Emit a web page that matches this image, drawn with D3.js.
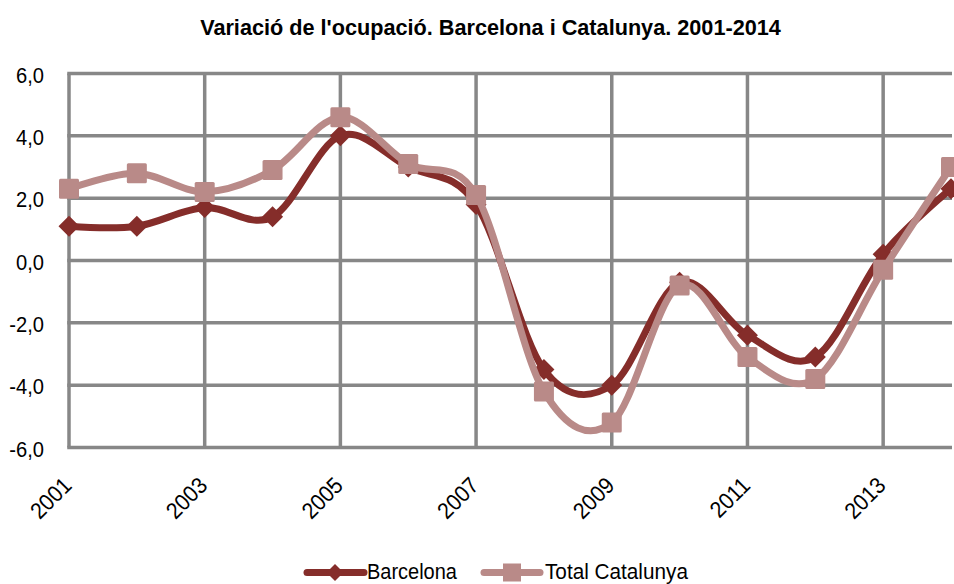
<!DOCTYPE html>
<html>
<head>
<meta charset="utf-8">
<script src="https://cdn.jsdelivr.net/npm/d3@7"></script>
<style>
  html, body { margin: 0; padding: 0; background: #fff; }
  svg { display: block; }
  text { font-family: "Liberation Sans Narrow", "Arial Narrow", "Liberation Sans", Arial, sans-serif; fill: #000; }
</style>
</head>
<body>
<svg id="chart" width="954" height="584"></svg>
<script>
const title = "Variació de l'ocupació. Barcelona i Catalunya. 2001-2014";
const years = [2001,2002,2003,2004,2005,2006,2007,2008,2009,2010,2011,2012,2013,2014];
const barcelona = [1.1,1.1,1.7,1.4,4.0,3.0,1.8,-3.5,-4.0,-0.7,-2.4,-3.1,0.2,2.3];
const catalunya = [2.3,2.8,2.2,2.9,4.6,3.1,2.1,-4.2,-5.2,-0.8,-3.1,-3.8,-0.3,3.0];
const yTicks = [-6,-4,-2,0,2,4,6];
const xTicks = [2001,2003,2005,2007,2009,2011,2013];
const seriesNames = ["Barcelona","Total Catalunya"];
const seriesColors = ["#852d2a","#b98a88"];

const svg = d3.select("#chart");
const x = d3.scaleLinear().domain([2001, 2014]).range([69, 951]);
const y = d3.scaleLinear().domain([-6, 6]).range([447.5, 73.5]);

// place a text with a horizontal squeeze so that its width matches target
function squeeze(t, base, target) {
  const w = t.node().getComputedTextLength();
  const sx = w > 0 ? target / w : 1;
  t.attr("transform", `${base} scale(${sx},1)`);
  return sx;
}

// grid
const grid = svg.append("g");
grid.selectAll("line.h").data(yTicks).join("line")
  .attr("x1", x(2001) - 1.75).attr("x2", 952)
  .attr("y1", d => y(d)).attr("y2", d => y(d))
  .attr("stroke", "#878787").attr("stroke-width", 3.5);
grid.selectAll("line.v").data(xTicks).join("line")
  .attr("x1", d => x(d)).attr("x2", d => x(d))
  .attr("y1", y(6)).attr("y2", y(-6))
  .attr("stroke", "#878787").attr("stroke-width", 3.5);

// y labels
const fmt = d => d3.format(".1f")(d).replace(".", ",").replace("−", "-");
const yg = svg.append("g");
let ySx = 1;
{
  const probe = yg.append("text").attr("font-size", 22).text(fmt(6));
  ySx = 28 / probe.node().getComputedTextLength();
  probe.remove();
}
yg.selectAll("text").data(yTicks).join("text")
  .attr("transform", d => `translate(44,${y(d) + 9}) scale(${ySx},1)`)
  .attr("text-anchor", "end")
  .attr("font-size", 22)
  .text(fmt);

// x labels
const xg = svg.append("g");
let xSx = 1;
{
  const probe = xg.append("text").attr("font-size", 23).text("2001");
  xSx = 47 / probe.node().getComputedTextLength();
  probe.remove();
}
xg.selectAll("text").data(xTicks).join("text")
  .attr("transform", d => `translate(${x(d) + 4},487) rotate(-45) scale(${xSx},1)`)
  .attr("text-anchor", "end")
  .attr("font-size", 23)
  .text(d => d);

// lines
const line = d3.line().x((d, i) => x(years[i])).y(d => y(d)).curve(d3.curveCardinal.tension(0));
svg.append("path").datum(barcelona).attr("d", line)
  .attr("fill", "none").attr("stroke", seriesColors[0]).attr("stroke-width", 7)
  .attr("stroke-linejoin", "round").attr("stroke-linecap", "round");
const diamond = r => `M0,${-r}L${r},0L0,${r}L${-r},0Z`;
svg.append("g").selectAll("path").data(barcelona).join("path")
  .attr("transform", (d, i) => `translate(${x(years[i])},${y(d)})`)
  .attr("d", diamond(10.5)).attr("fill", seriesColors[0]);

svg.append("path").datum(catalunya).attr("d", line)
  .attr("fill", "none").attr("stroke", seriesColors[1]).attr("stroke-width", 7)
  .attr("stroke-linejoin", "round").attr("stroke-linecap", "round");
svg.append("g").selectAll("rect").data(catalunya).join("rect")
  .attr("x", (d, i) => x(years[i]) - 10).attr("y", d => y(d) - 10)
  .attr("width", 20).attr("height", 20).attr("rx", 1.5)
  .attr("fill", seriesColors[1]);

// title
const tt = svg.append("text")
  .attr("text-anchor", "middle").attr("font-weight", "bold")
  .attr("font-size", 22).text(title);
squeeze(tt, "translate(490.5,35)", 581);

// legend
const leg = svg.append("g");
const legY = 572.5;
const legItems = [
  {name: seriesNames[0], color: seriesColors[0], x1: 307, x2: 364, mx: 335, tx: 367, tw: 90, marker: "diamond"},
  {name: seriesNames[1], color: seriesColors[1], x1: 484, x2: 540, mx: 512, tx: 545, tw: 143, marker: "square"}
];
legItems.forEach(it => {
  leg.append("line").attr("x1", it.x1).attr("x2", it.x2).attr("y1", legY).attr("y2", legY)
    .attr("stroke", it.color).attr("stroke-width", 7).attr("stroke-linecap", "round");
  if (it.marker === "diamond") {
    leg.append("path").attr("transform", `translate(${it.mx},${legY})`).attr("d", diamond(8.5)).attr("fill", it.color);
  } else {
    leg.append("rect").attr("x", it.mx - 9).attr("y", legY - 9).attr("width", 18).attr("height", 18).attr("fill", it.color);
  }
  const t = leg.append("text").attr("font-size", 22).text(it.name);
  squeeze(t, `translate(${it.tx},579)`, it.tw);
});
</script>
</body>
</html>
